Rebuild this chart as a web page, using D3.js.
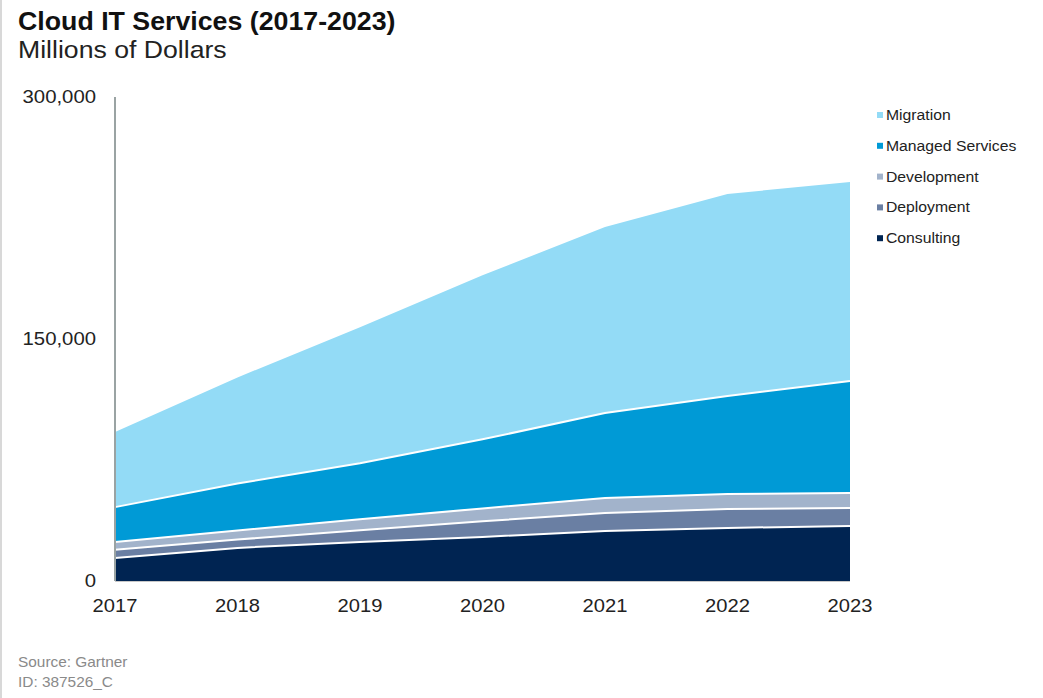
<!DOCTYPE html>
<html>
<head>
<meta charset="utf-8">
<script src="https://cdn.jsdelivr.net/npm/d3@7"></script>
<style>
  body { margin: 0; background: #fff; }
  svg { font-family: "Liberation Sans", Arial, sans-serif; }
</style>
</head>
<body>
<script>
// data (millions of dollars)
var years = [2017, 2018, 2019, 2020, 2021, 2022, 2023];
var consulting  = [14300, 20500, 24200, 27300, 31000, 32900, 34100];
var deployment  = [5000, 5200, 7300, 9700, 11100, 11700, 11100];
var development = [4800, 5600, 6800, 8000, 9300, 9300, 9300];
var managed     = [21700, 29100, 34700, 42800, 52700, 60800, 69500];
var migration   = [46500, 65800, 84300, 101700, 115300, 125200, 123300];
var seriesNames = ["Consulting", "Deployment", "Development", "Managed Services", "Migration"];
var colors = ["#002452", "#6a7fa3", "#a2b3cb", "#009ad6", "#93dbf6"];
var yTicks = [0, 150000, 300000];

var w = 1043;
var h = 698;

var svg = d3.select("body")
      .append("svg")
      .attr("width", w)
      .attr("height", h);

// the original image text is a little wider than Arial, stretch it
function label(parent, x, y, sx) {
  return parent.append("text")
    .attr("transform", "translate(" + x + "," + y + ") scale(" + sx + ",1)");
}

// build rows for the stack
var rows = years.map(function(y, i) {
  return {
    year: y,
    "Consulting": consulting[i],
    "Deployment": deployment[i],
    "Development": development[i],
    "Managed Services": managed[i],
    "Migration": migration[i]
  };
});

var x = d3.scalePoint().domain(years).range([115, 850]);
var y = d3.scaleLinear().domain([0, 300000]).range([581, 97]);

var stack = d3.stack().keys(seriesNames);
var layers = stack(rows);

var area = d3.area()
    .x(function(d) { return x(d.data.year); })
    .y0(function(d) { return y(d[0]); })
    .y1(function(d) { return y(d[1]); });

svg.selectAll("path.layer")
  .data(layers)
  .enter()
  .append("path")
  .attr("class", "layer")
  .attr("d", area)
  .attr("fill", function(d, i) { return colors[i]; });

// white separators between layers
var line = d3.line()
    .x(function(d) { return x(d.data.year); })
    .y(function(d) { return y(d[1]); });

svg.selectAll("path.sep")
  .data(layers.slice(0, 4))
  .enter()
  .append("path")
  .attr("class", "sep")
  .attr("d", line)
  .attr("fill", "none")
  .attr("stroke", "#fff")
  .attr("stroke-width", 2);

// y axis line
svg.append("line")
  .attr("x1", 115).attr("x2", 115)
  .attr("y1", 97).attr("y2", 581)
  .attr("stroke", "#9aa3a3")
  .attr("stroke-width", 2);

// x baseline
svg.append("line")
  .attr("x1", 115).attr("x2", 850)
  .attr("y1", 581.5).attr("y2", 581.5)
  .attr("stroke", "#c8c8c8")
  .attr("stroke-width", 1);

// y tick labels
yTicks.forEach(function(d) {
  label(svg, 96, y(d) + 6, 1.13)
    .attr("text-anchor", "end")
    .attr("font-size", 18)
    .attr("fill", "#222")
    .text(d3.format(",")(d));
});

// x tick labels
years.forEach(function(d) {
  label(svg, x(d), 612, 1.12)
    .attr("text-anchor", "middle")
    .attr("font-size", 18)
    .attr("fill", "#222")
    .text(d);
});

// legend, top item is Migration
var legendItems = seriesNames.map(function(n, i) { return { name: n, color: colors[i] }; }).reverse();
var legend = svg.selectAll("g.legend")
  .data(legendItems)
  .enter()
  .append("g")
  .attr("class", "legend")
  .attr("transform", function(d, i) { return "translate(877," + (115 + i * 30.8) + ")"; });

legend.append("rect")
  .attr("x", 0).attr("y", -3)
  .attr("width", 6).attr("height", 6)
  .attr("fill", function(d) { return d.color; });

legend.each(function(d) {
  label(d3.select(this), 9, 5, 1.05)
    .attr("font-size", 15)
    .attr("fill", "#222")
    .text(d.name);
});

// titles
label(svg, 18, 30, 1.07)
  .attr("font-size", 25)
  .attr("font-weight", "bold")
  .attr("fill", "#111")
  .text("Cloud IT Services (2017-2023)");

label(svg, 18, 58, 1.11)
  .attr("font-size", 24)
  .attr("fill", "#222")
  .text("Millions of Dollars");

// footer
label(svg, 18, 667, 1.1)
  .attr("font-size", 14)
  .attr("fill", "#8a8a8a")
  .text("Source: Gartner");

label(svg, 18, 687, 1.1)
  .attr("font-size", 14)
  .attr("fill", "#8a8a8a")
  .text("ID: 387526_C");

// frame edge on the left
svg.append("line")
  .attr("x1", 1).attr("x2", 1)
  .attr("y1", 0).attr("y2", h)
  .attr("stroke", "#d8d8d8")
  .attr("stroke-width", 2);
</script>
</body>
</html>
